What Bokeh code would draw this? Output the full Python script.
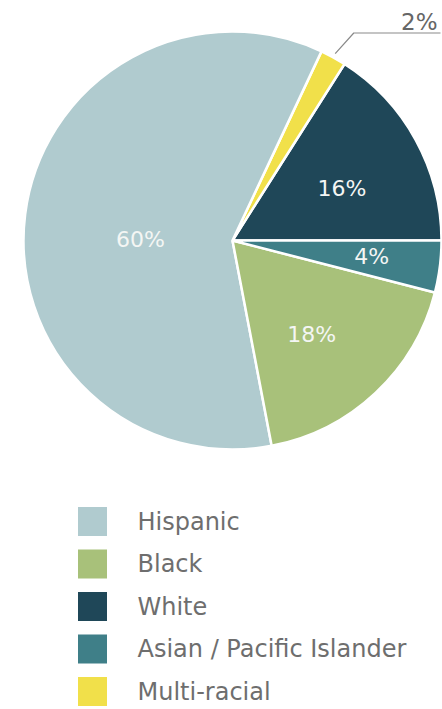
import math
from bokeh.plotting import figure
from bokeh.models import Range1d, ColumnDataSource
from bokeh.core.properties import value
from bokeh.embed import file_html
from bokeh.resources import INLINE

# ---- data ----
pie_order = ["White", "Multi-racial", "Hispanic", "Black", "Asian / Pacific Islander"]
pie_values = [16, 2, 60, 18, 4]
pie_labels = ["16%", "2%", "60%", "18%", "4%"]
legend_order = ["Hispanic", "Black", "White", "Asian / Pacific Islander", "Multi-racial"]

# ---- styles ----
colors = {
    "Hispanic": "#b0cbcf",
    "Black": "#a8c17a",
    "White": "#1f4758",
    "Asian / Pacific Islander": "#3f7f88",
    "Multi-racial": "#f1e04a",
}
# (radius fraction, angle offset in degrees from the slice middle)
label_place = {
    "White": (0.58, -3.3),
    "Hispanic": (0.44, 6.6),
    "Black": (0.59, -3.2),
    "Asian / Pacific Islander": (0.67, 0.7),
}

W, H = 442, 709
CX, CY_TOP, R = 232, 240, 209
FONT = "DejaVu Sans"


def Y(ytop):
    return H - ytop


p = figure(width=W, height=H, output_backend="svg", toolbar_location=None,
           x_range=Range1d(0, W), y_range=Range1d(0, H), min_border=0)
p.axis.visible = False
p.grid.visible = False
p.outline_line_color = None
p.background_fill_color = "white"
p.border_fill_color = "white"

total = sum(pie_values)
starts, ends, acc = [], [], 0.0
for v in pie_values:
    starts.append(acc / total * 2 * math.pi)
    acc += v
    ends.append(acc / total * 2 * math.pi)

src = ColumnDataSource(dict(
    start=starts, end=ends,
    color=[colors[c] for c in pie_order],
    x=[CX] * len(pie_order), y=[Y(CY_TOP)] * len(pie_order),
))
p.wedge(x="x", y="y", radius=R, start_angle="start", end_angle="end",
        fill_color="color", line_color="white", line_width=2.5, source=src)

# inside labels
lx, ly, lt = [], [], []
for name, s, e, lab in zip(pie_order, starts, ends, pie_labels):
    if name not in label_place:
        continue
    f, off = label_place[name]
    m = (s + e) / 2 + math.radians(off)
    lx.append(CX + R * f * math.cos(m))
    ly.append(Y(CY_TOP) + R * f * math.sin(m))
    lt.append(lab)
p.text(x=lx, y=ly, text=lt, text_color="#f4f6f4", text_font=value(FONT),
       text_font_size="22px", text_align="center", text_baseline="middle")

# leader for the small slice
i = pie_order.index("Multi-racial")
m = (starts[i] + ends[i]) / 2
x0, y0 = CX + R * 1.02 * math.cos(m), Y(CY_TOP) + R * 1.02 * math.sin(m)
ang2 = m - math.radians(1.5)
x1, y1 = CX + R * 1.15 * math.cos(ang2), Y(CY_TOP) + R * 1.15 * math.sin(ang2)
p.line(x=[x0, x1, 440], y=[y0, y1, y1], line_color="#8a8a8a", line_width=1.2)
p.text(x=[437], y=[y1 - 2], text=[pie_labels[i]], text_color="#666666",
       text_font=value(FONT), text_font_size="23px", text_align="right",
       text_baseline="bottom")

# legend
row0, step = 521, 42.5
ys = [Y(row0 + k * step) for k in range(len(legend_order))]
p.rect(x=[92] * len(legend_order), y=ys, width=29, height=29,
       fill_color=[colors[c] for c in legend_order], line_color=None)
p.text(x=[137] * len(legend_order), y=ys, text=legend_order, text_color="#6e6e6e",
       text_font=value(FONT), text_font_size="24px", text_align="left",
       text_baseline="middle")

open("out.html", "w").write(file_html(p, INLINE))
